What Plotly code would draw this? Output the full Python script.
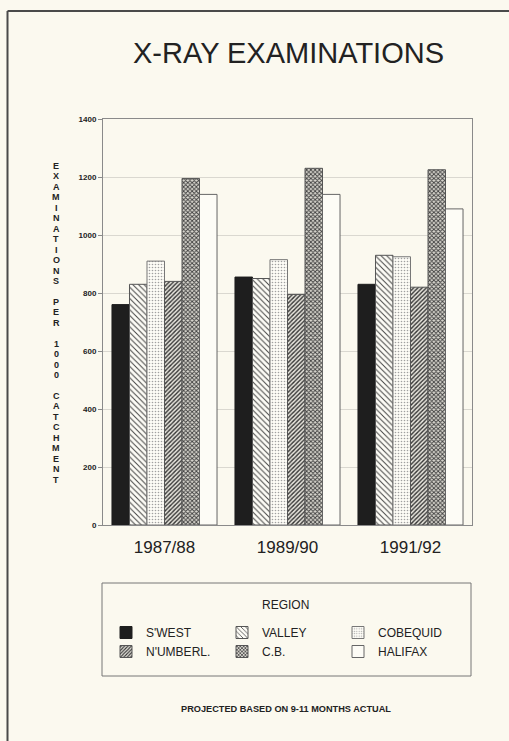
import plotly.graph_objects as go

# Fiscal years on the category axis
years = ["1987/88", "1989/90", "1991/92"]

# Examinations per 1000 catchment, by region
swest = [760, 855, 830]
valley = [830, 850, 930]
cobequid = [910, 915, 925]
numberl = [840, 795, 820]
cb = [1195, 1230, 1225]
halifax = [1140, 1140, 1090]

region_names = ["S'WEST", "VALLEY", "COBEQUID", "N'UMBERL.", "C.B.", "HALIFAX"]
region_values = [swest, valley, cobequid, numberl, cb, halifax]

y_ticks = [0, 200, 400, 600, 800, 1000, 1200, 1400]

PAPER = "#FBF9EF"
INK = "#222222"
FONT = "Liberation Sans, Arial, sans-serif"

# fill style for each region
styles = [
    dict(color="#1E1E1E", line="#1E1E1E", shape="", fg="#1E1E1E", size=8, solidity=0.3),
    dict(color="#FDFCF6", line="#555555", shape="\\", fg="#444444", size=4, solidity=0.25),
    dict(color="#FDFCF6", line="#777777", shape=".", fg="#A0A0A0", size=3, solidity=0.22),
    dict(color="#E8E6DE", line="#555555", shape="/", fg="#333333", size=3, solidity=0.45),
    dict(color="#DAD8D0", line="#555555", shape="x", fg="#3E3E3E", size=3, solidity=0.5),
    dict(color="#FDFCF6", line="#666666", shape="", fg="#FDFCF6", size=8, solidity=0.3),
]

fig = go.Figure()
for name, vals, st in zip(region_names, region_values, styles):
    pattern = dict(shape=st["shape"], fgcolor=st["fg"], bgcolor=st["color"],
                   size=st["size"], solidity=st["solidity"], fillmode="replace")
    fig.add_trace(go.Bar(
        name=name, x=years, y=vals,
        marker=dict(color=st["color"], line=dict(color=st["line"], width=1),
                    pattern=pattern),
    ))

# plot-area geometry in pixels (used to place page decorations)
W, H = 509, 741
L, R, T, B = 103, 37, 119, 216
PW, PH = W - L - R, H - T - B


def px(x):
    return (x - L) / PW


def py(y):
    return (H - B - y) / PH


def note(text, x, y, size, bold=False):
    return dict(text="<b>%s</b>" % text if bold else text,
                x=px(x), y=py(y), xref="paper", yref="paper",
                xanchor="center", yanchor="middle", showarrow=False,
                font=dict(family=FONT, size=size, color=INK))


annotations = [
    note("X-RAY EXAMINATIONS", 288, 53, 29),
    note("PROJECTED BASED ON 9-11 MONTHS ACTUAL", 286, 709, 9.2, bold=True),
    note("REGION", 285, 605, 12),
]

# vertical stacked axis title, one character per line
label = "EXAMINATIONS PER 1000 CATCHMENT"
for i, ch in enumerate(label):
    if ch != " ":
        annotations.append(note(ch, 56, 166 + i * 10.45, 9, bold=True))

shapes = [
    # page frame (left and top edges)
    dict(type="line", xref="paper", yref="paper", x0=px(7.5), x1=px(7.5),
         y0=py(11), y1=py(745), line=dict(color="#4A4A4A", width=2)),
    dict(type="line", xref="paper", yref="paper", x0=px(7.5), x1=px(512),
         y0=py(11), y1=py(11), line=dict(color="#4A4A4A", width=2)),
    # legend box
    dict(type="rect", xref="paper", yref="paper", x0=px(102), x1=px(471),
         y0=py(583), y1=py(676), line=dict(color="#777777", width=1)),
]

fig.update_layout(
    width=W, height=H,
    margin=dict(l=L, r=R, t=T, b=B),
    paper_bgcolor=PAPER, plot_bgcolor=PAPER,
    barmode="group", bargap=0.146, bargroupgap=0,
    font=dict(family=FONT, color=INK),
    showlegend=True,
    legend=dict(
        orientation="h", x=px(106), y=py(618), xanchor="left", yanchor="top",
        xref="paper", yref="paper",
        entrywidth=71, entrywidthmode="pixels",
        bgcolor="rgba(0,0,0,0)", borderwidth=0,
        font=dict(family=FONT, size=12, color=INK),
        traceorder="normal",
    ),
    annotations=annotations,
    shapes=shapes,
)

fig.update_xaxes(
    showline=True, linecolor="#8A8A8A", linewidth=1, mirror=True,
    ticks="", ticklabelstandoff=7, tickfont=dict(family=FONT, size=17, color=INK),
    showgrid=False,
)
fig.update_yaxes(
    range=[0, 1400], tickvals=y_ticks, ticktext=["<b>%d</b>" % v for v in y_ticks],
    showline=True, linecolor="#8A8A8A", linewidth=1, mirror=True,
    ticks="outside", ticklen=4, tickcolor="#8A8A8A",
    tickfont=dict(family=FONT, size=8, color=INK),
    showgrid=True, gridcolor="#DAD8D0", gridwidth=1, zeroline=False,
)

fig.write_html("out.html")
